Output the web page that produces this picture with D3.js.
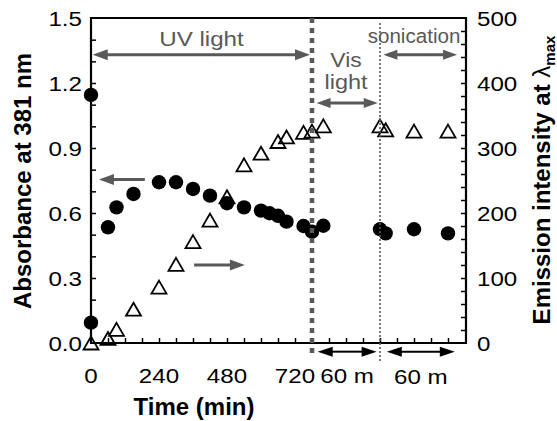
<!DOCTYPE html>
<html><head><meta charset="utf-8">
<script src="https://cdn.jsdelivr.net/npm/d3@7"></script>
<style>
body{margin:0;background:#fff}
svg{display:block}
text{font-family:"Liberation Sans",Arial,Helvetica,sans-serif}
</style>
</head><body>
<svg id="chart" width="557" height="421"></svg>
<script>
// ---------------- data ----------------
// time axis in minutes: UV 0-780, visible light 780-840, sonication 840-900
const absTimes  = [0, 0, 60, 90, 150, 240, 300, 360, 420, 480, 540, 600, 630, 660, 690, 750, 780, 790, 840, 845, 870, 900];
const absValues = [1.145, 0.094, 0.534, 0.626, 0.688, 0.742, 0.742, 0.711, 0.680, 0.645, 0.626, 0.611, 0.599, 0.587, 0.560, 0.540, 0.514, 0.541, 0.525, 0.506, 0.525, 0.506];
const emTimes   = [0, 60, 90, 150, 240, 300, 360, 420, 480, 540, 600, 660, 690, 750, 780, 790, 840, 845, 870, 900];
const emValues  = [0, 7, 21, 52, 86, 121, 156, 189, 225, 274, 292, 310, 317, 324, 326, 334, 334, 328, 326, 326];
const phaseBounds = [0, 780, 840, 900];
const xTickLabels = [0, 240, 480, 720];
const yLeftLabels = [0, 0.3, 0.6, 0.9, 1.2, 1.5];
const yRightLabels = [0, 100, 200, 300, 400, 500];
const phaseNames = ["UV light", "Vis", "light", "sonication"];
const durationLabels = ["60 m", "60 m"];

// ---------------- setup ----------------
const svg = d3.select("#chart");
const L = 91, R = 466, T = 18, B = 343;
const GRAY = "#595959";
const STRETCH = 1.15;

const x = d3.scaleLinear().domain(phaseBounds).range([L, 312, 380, 448]);
const xLin = d3.scaleLinear().domain([0, 780]).range([x(0), x(780)]);
const yL = d3.scaleLinear().domain([0, 1.5]).range([B, T]);
const yR = d3.scaleLinear().domain([0, 500]).range([B, T]);

function label(g, px, py, str, o = {}) {
  const size = o.size || 21, sx = o.sx == null ? STRETCH : o.sx;
  return g.append("text")
    .attr("transform", `translate(${px},${py}) scale(${sx},1)`)
    .attr("text-anchor", o.anchor || "middle")
    .attr("font-size", size)
    .attr("font-weight", o.weight || "normal")
    .attr("fill", o.fill || "#000")
    .text(str);
}

function arrow(g, x1, x2, y, o = {}) {
  const color = o.color || GRAY, w = o.width || 3, hl = o.headLen || 15, hw = o.headW || 11;
  const headStart = o.start !== false, headEnd = o.end !== false;
  const dir = x2 > x1 ? 1 : -1;
  const a = headStart ? x1 + dir * (hl - 1) : x1;
  const b = headEnd ? x2 - dir * (hl - 1) : x2;
  g.append("line").attr("x1", a).attr("x2", b).attr("y1", y).attr("y2", y)
    .attr("stroke", color).attr("stroke-width", w);
  const head = (tip, d) => g.append("path")
    .attr("d", `M${tip},${y} L${tip - d * hl},${y - hw / 2} L${tip - d * hl},${y + hw / 2} Z`)
    .attr("fill", color);
  if (headEnd) head(x2, dir);
  if (headStart) head(x1, -dir);
}

// ---------------- axes ----------------
const axes = svg.append("g");
const xTickVals = d3.range(60, 1261, 60);
axes.append("g").attr("transform", `translate(0,${B})`)
  .call(d3.axisBottom(xLin).tickValues(xTickVals).tickSize(-5).tickSizeOuter(0).tickFormat(""))
  .call(g => g.select(".domain").remove())
  .call(g => g.selectAll("line").attr("stroke-width", 1.5));
axes.append("g").attr("transform", `translate(${L},0)`)
  .call(d3.axisLeft(yL).tickValues(d3.range(1, 15).map(i => i / 10)).tickSize(-5).tickSizeOuter(0).tickFormat(""))
  .call(g => g.select(".domain").remove())
  .call(g => g.selectAll("line").attr("stroke-width", 1.5));
axes.append("g").attr("transform", `translate(${R},0)`)
  .call(d3.axisRight(yR).tickValues(d3.range(20, 500, 20)).tickSize(-5).tickSizeOuter(0).tickFormat(""))
  .call(g => g.select(".domain").remove())
  .call(g => g.selectAll("line").attr("stroke-width", 1.5));

axes.append("path")
  .attr("d", `M${L},${T} L${R},${T} L${R},${B} L${L},${B} Z`)
  .attr("fill", "none").attr("stroke", "#000").attr("stroke-width", 2.2);

xTickLabels.forEach(v => label(axes, xLin(v), 383, String(v)));
yLeftLabels.forEach(v => label(axes, 82, yL(v) + 7.5, v.toFixed(1), {anchor: "end"}));
yRightLabels.forEach(v => label(axes, 477, yR(v) + 7.5, String(v), {anchor: "start"}));

axes.append("text").attr("x", 194).attr("y", 415).attr("text-anchor", "middle")
  .attr("font-size", 24).attr("font-weight", "bold").text("Time (min)");
axes.append("text").attr("transform", `translate(31,181) rotate(-90)`).attr("text-anchor", "middle")
  .attr("font-size", 24).attr("font-weight", "bold").text("Absorbance at 381 nm");
const rt = axes.append("text").attr("transform", `translate(550,180) rotate(-90)`).attr("text-anchor", "middle")
  .attr("font-size", 24).attr("font-weight", "bold");
rt.append("tspan").text("Emission intensity at ");
rt.append("tspan").attr("font-weight", "normal").text("λ");
rt.append("tspan").attr("font-size", 15).attr("dy", 5).text("max");

// ---------------- marks ----------------
const marks = svg.append("g");
const tri = (cx, cy) => `M${cx},${cy - 6.5} L${cx + 7.5},${cy + 6.5} L${cx - 7.5},${cy + 6.5} Z`;
marks.selectAll("path.tri").data(emTimes.map((t, i) => [t, emValues[i]])).join("path")
  .attr("class", "tri")
  .attr("d", d => tri(x(d[0]), yR(d[1])))
  .attr("fill", "none").attr("stroke", "#000").attr("stroke-width", 1.8);
marks.selectAll("circle").data(absTimes.map((t, i) => [t, absValues[i]])).join("circle")
  .attr("cx", d => x(d[0])).attr("cy", d => yL(d[1])).attr("r", 7.2).attr("fill", "#000");

// ---------------- phase annotations ----------------
const ann = svg.append("g");
ann.append("line").attr("x1", x(780)).attr("x2", x(780)).attr("y1", T).attr("y2", 358)
  .attr("stroke", GRAY).attr("stroke-width", 4.5).attr("stroke-dasharray", "5,5");
ann.append("line").attr("x1", x(840)).attr("x2", x(840)).attr("y1", 23).attr("y2", 363)
  .attr("stroke", GRAY).attr("stroke-width", 1.6).attr("stroke-dasharray", "2,2");

arrow(ann, x(6), x(773), yL(1.33));
label(ann, x(390), yL(1.37), phaseNames[0], {fill: GRAY});
arrow(ann, x(784), x(838), yL(1.108), {headLen: 14, headW: 10});
label(ann, x(810), 67, phaseNames[1], {fill: GRAY, sx: 1.09});
label(ann, x(810), 89, phaseNames[2], {fill: GRAY, sx: 1.12});
arrow(ann, x(843), x(908), yL(1.33), {headLen: 14, headW: 10});
label(ann, x(870), 43, phaseNames[3], {fill: GRAY, size: 20, sx: 1.03});

arrow(ann, x(190), x(28), yL(0.755), {start: false});
arrow(ann, x(364), x(543), yR(120), {start: false});

arrow(ann, x(785), x(837), yL(-0.04), {color: "#000", width: 2, headLen: 15, headW: 10});
arrow(ann, x(846), x(906), yL(-0.04), {color: "#000", width: 2, headLen: 15, headW: 10});
label(ann, x(811), 383, durationLabels[0]);
label(ann, x(876), 384, durationLabels[1]);
</script>
</body></html>
